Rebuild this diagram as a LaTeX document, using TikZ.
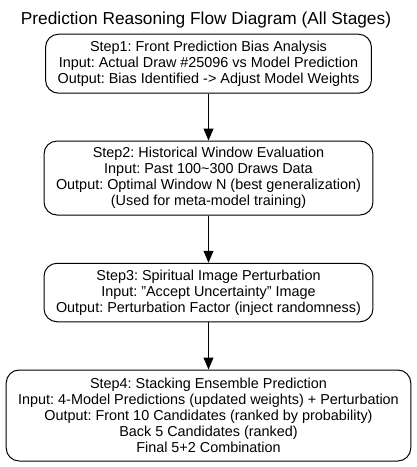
\documentclass[tikz,border=0pt]{standalone}
\usepackage{fontspec}
\setmainfont{Liberation Sans}
\usepackage{tikz}
\usetikzlibrary{positioning,arrows.meta}
\frenchspacing

\begin{document}
\begin{tikzpicture}[x=1pt,y=-1pt,
	stepbox/.style={draw, line width=1pt, rounded corners=13pt, fill=white, align=center,
		inner xsep=12pt, inner ysep=0pt, font=\fontsize{14.4}{16}\selectfont},
	flow/.style={line width=1pt, -{Triangle[length=12pt,width=10pt]}}]
				\useasboundingbox (0,0) rectangle (417,467);
				\node[font=\fontsize{17.3}{20}\selectfont] (title) at (206,20) {Prediction Reasoning Flow Diagram (All Stages)};
				\node[stepbox, minimum height=59pt] (s1) at (208.5,63.7) {Step1: Front Prediction Bias Analysis\\Input: Actual Draw \#25096 vs Model Prediction\\Output: Bias Identified -> Adjust Model Weights};
				\node[stepbox, minimum height=74pt] (s2) at (208.5,178) {Step2: Historical Window Evaluation\\Input: Past 100\textasciitilde 300 Draws Data\\Output: Optimal Window N (best generalization)\\(Used for meta-model training)};
				\node[stepbox, minimum height=58.5pt] (s3) at (208.5,292.5) {Step3: Spiritual Image Perturbation\\Input: \symbol{34}Accept Uncertainty\symbol{34} Image\\Output: Perturbation Factor (inject randomness)};
				\node[stepbox, minimum height=91pt] (s4) at (208.5,415.5) {Step4: Stacking Ensemble Prediction\\Input: 4-Model Predictions (updated weights) + Perturbation\\Output: Front 10 Candidates (ranked by probability)\\Back 5 Candidates (ranked)\\Final 5+2 Combination};
				\draw[flow] (s1) -- (s2);
				\draw[flow] (s2) -- (s3);
				\draw[flow] (s3) -- (s4);
\end{tikzpicture}
\end{document}
